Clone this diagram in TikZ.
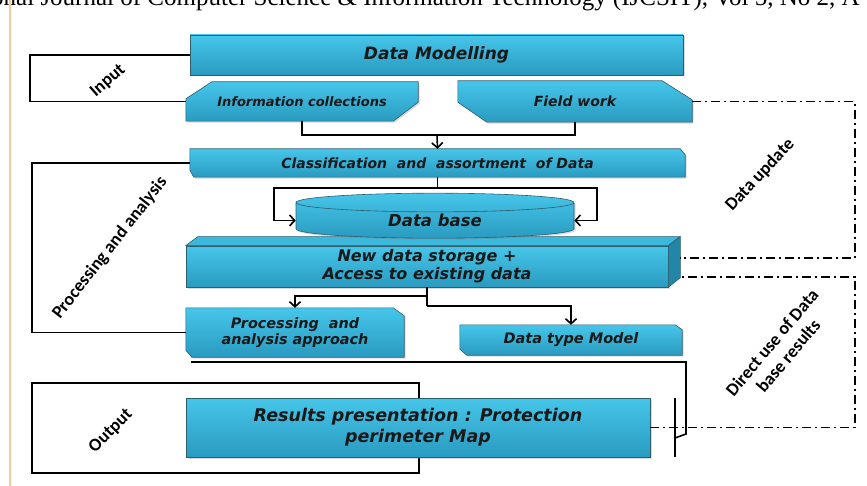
\documentclass[tikz,border=0pt]{standalone}
\usepackage{fontspec}
\usetikzlibrary{shapes.geometric,shadows,calc,arrows.meta}
\newfontfamily\boxfont{DejaVu Sans}
\newfontfamily\labfont{Carlito}
\newfontfamily\headfont{Liberation Serif}
\definecolor{boxhi}{HTML}{46C6EA}
\definecolor{boxlo}{HTML}{2A9AC0}
\definecolor{boxline}{HTML}{2E5D6E}
\definecolor{sideface}{HTML}{2386A6}
\definecolor{topface}{HTML}{3CB8DD}
\definecolor{margin}{HTML}{FBC9A0}
\newcommand{\fs}[2]{\fontsize{#1}{#2}\selectfont}
\pgfdeclarelayer{bg}
\pgfsetlayers{bg,main}

\begin{document}
\begin{tikzpicture}[x=1pt, y=-1pt, >={Straight Barb[length=5pt,width=11pt]},
    shell/.style={draw=boxline, line width=0.6pt, top color=boxhi, bottom color=boxlo,
      drop shadow={shadow xshift=1.5pt, shadow yshift=-1.5pt, opacity=0.3}},
    txt/.style={font=\boxfont\bfseries\itshape\fs{#1}{#1}, text=black!90, inner sep=0pt, align=center},
    blue box/.style={shell, txt=#1},
    link/.style={line width=1.6pt},
    upd/.style={line width=1.4pt, dash pattern=on 9pt off 4pt on 2pt off 4pt},
    lab/.style={font=\labfont\bfseries\fs{18}{19}, align=center}]
  \useasboundingbox (0,0) rectangle (867,486);
  \clip (0,0) rectangle (867,486);
  % page header and margin
  \node[font=\headfont\fs{25}{26}, anchor=base west, inner sep=0pt] (head) at (-9,6)
    {onal Journal of Computer Science \& Information Technology (IJCSIT), Vol 5, No 2, A};
  \draw[margin, line width=1.5pt] (10,0) -- (10,486);
  % boxes
  \node[blue box=17, minimum width=493, minimum height=40] (model) at (436.5,55) {Data Modelling};
  \node[txt=13, minimum width=232, minimum height=39] (info) at (302,101.5) {Information collections};
  \node[txt=14, minimum width=234, minimum height=41] (field) at (575,101.5) {Field work};
  \node[txt=14, minimum width=495, minimum height=28] (class) at (437.5,163) {Classification\ \ and\ \ assortment\ \ of Data};
  \node[blue box=16, minimum width=482, minimum height=41, font=\boxfont\bfseries\itshape\fs{16}{18}] (store) at (427,266.5) {New data storage +\\Access to existing data};
  \fill[topface, draw=boxline, line width=0.6pt] (store.north west) -- ++(12,-9) -- ++(482,0) -- (store.north east) -- cycle;
  \fill[sideface, draw=boxline, line width=0.6pt] (store.north east) -- ++(12,-9) -- ++(0,41) -- (store.south east) -- cycle;
  \node[blue box=16.5, cylinder, shape border rotate=90, aspect=0.2, minimum width=278, minimum height=45] (db) at (435,220.5) {Data base};
  \node[txt=14.4, minimum width=218, minimum height=49, font=\boxfont\bfseries\itshape\fs{14.4}{16.5}] (proc) at (295,332.5) {Processing\ \ and\\analysis approach};
  \node[txt=14.5, minimum width=222, minimum height=30] (dtm) at (571,340) {Data type Model};
  \coordinate (out1) at (32,383);
  \coordinate (out2) at (419,473);
  \draw[link] (out1) rectangle (out2);
  \node[blue box=17.5, minimum width=464, minimum height=59, font=\boxfont\bfseries\itshape\fs{17.5}{21}] (res) at (418,427.5) {Results presentation : Protection\\perimeter Map};
  % cut-corner boxes behind their texts
  \begin{pgfonlayer}{bg}
    \path[shell] ($(info.north west)+(26,0)$) -- (info.north east) -- ($(info.south east)+(0,-19)$)
      -- ($(info.south east)+(-25,0)$) -- (info.south west) -- ($(info.north west)+(0,17)$) -- cycle;
    \path[shell] (field.north west) -- ($(field.north east)+(-30,0)$) -- ($(field.north east)+(0,19)$)
      -- (field.south east) -- ($(field.south west)+(29,0)$) -- ($(field.south west)+(0,-20)$) -- cycle;
    \path[shell] (class.north west) -- ($(class.north east)+(-5,0)$) -- ($(class.north east)+(0,6)$)
      -- (class.south east) -- ($(class.south west)+(4,0)$) -- ($(class.south west)+(0,-7)$) -- cycle;
    \path[shell] (proc.north west) -- ($(proc.north east)+(-11,0)$) -- ($(proc.north east)+(0,8)$)
      -- (proc.south east) -- ($(proc.south west)+(6,0)$) -- ($(proc.south west)+(0,-7)$) -- cycle;
    \path[shell] (dtm.north west) -- ($(dtm.north east)+(-7,0)$) -- ($(dtm.north east)+(0,5)$)
      -- (dtm.south east) -- ($(dtm.south west)+(7,0)$) -- ($(dtm.south west)+(0,-6)$) -- cycle;
  \end{pgfonlayer}
  % connectors
  \coordinate (j1) at (437,135);
  \draw[link] (info.south) |- (j1) -| (field.south);
  \draw[link,->] (j1) -- (class.north);
  \coordinate (j2) at (437.5,188);
  \coordinate (dl) at (274,188);
  \coordinate (dr) at (597,188);
  \draw[link] (class.south) -- (j2);
  \draw[link,->] (j2) -- (dl) |- (db);
  \draw[link,->] (j2) -- (dr) |- (db);
  \coordinate (j3) at (427,296);
  \coordinate (j4) at (427,306);
  \draw[link] (store.south) -- (j3) -- (j4);
  \draw[link,->] (j3) -| (proc.north);
  \draw[link,->] (j4) -| (dtm.north);
  % brackets
  \coordinate (i1) at (30,55);
  \coordinate (i2) at (30,101.5);
  \draw[link] (model.west) -- (i1) -- (i2) -- (info.west);
  \coordinate (p1) at (32,163);
  \coordinate (p2) at (32,332.5);
  \draw[link] (class.west) -- (p1) -- (p2) -- (proc.west);
  \coordinate (b1) at (191,362);
  \coordinate (b2) at (686,362);
  \coordinate (b3) at (686,434);
  \coordinate (b4) at (675,438);
  \draw[link] (b1) -- (b2) -- (b3) -- (b4);
  \coordinate (t1) at (675,398);
  \coordinate (t2) at (675,457);
  \draw[link] (t1) -- (t2);
  % dash-dot feedback
  \coordinate (u1) at (855,101.5);
  \coordinate (u2) at (855,258);
  \coordinate (u3) at (680,258);
  \draw[upd] (field.east) -- (u1) -- (u2) -- (u3);
  \coordinate (d1) at (855,427.5);
  \coordinate (d2) at (855,277);
  \coordinate (d3) at (680,277);
  \draw[upd] (res.east) -- (d1) -- (d2) -- (d3);
  % side labels
  \node[lab, rotate=41] (inlab) at (108,81) {Input};
  \node[lab, rotate=52] (prlab) at (110,248) {Processing and analysis};
  \node[lab, rotate=45] (oulab) at (111,431) {Output};
  \node[lab, rotate=47] (uplab) at (760,175) {Data update};
  \node[lab, rotate=50, font=\labfont\bfseries\fs{18}{21}] (dulab) at (780,349) {Direct use of Data\\base results};
\end{tikzpicture}
\end{document}
